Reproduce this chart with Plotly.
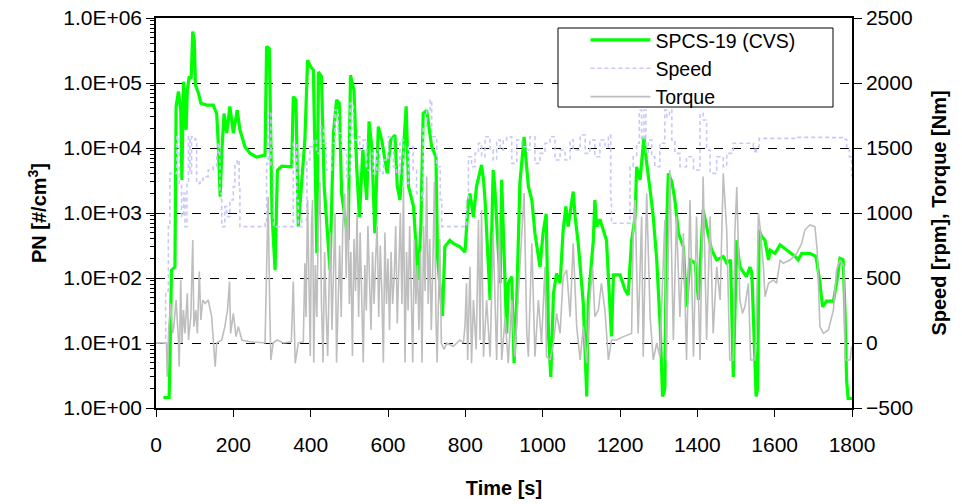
import plotly.graph_objects as go

# ---- PN (SPCS-19, CVS) [#/cm3] ----
pn_t = [19, 34, 36, 40, 49, 52, 58, 64, 67, 71, 75, 78, 81, 86, 91, 95, 99, 102, 110, 116,
        131, 148, 157, 161, 166, 170, 176, 183, 191, 200, 210, 217, 230, 243, 260, 282, 286, 293, 297, 300,
        308, 314, 325, 351, 355, 362, 368, 379, 385, 392, 400, 407, 411, 416, 420, 428, 435, 450, 459, 467,
        474, 480, 497, 503, 512, 519, 526, 535, 545, 551, 558, 566, 575, 584, 592, 598, 607, 618, 624, 631,
        640, 647, 653, 666, 678, 685, 691, 700, 713, 724, 728, 741, 747, 760, 769, 786, 799, 808, 812, 821,
        829, 838, 842, 847, 851, 864, 872, 876, 880, 890, 894, 907, 911, 920, 926, 933, 941, 952, 957, 963,
        972, 980, 993, 1001, 1009, 1015, 1021, 1028, 1036, 1045, 1053, 1060, 1066, 1079, 1084, 1092, 1105, 1114, 1118, 1127,
        1131, 1135, 1140, 1148, 1157, 1165, 1174, 1178, 1183, 1200, 1213, 1221, 1230, 1239, 1243, 1252, 1258, 1262, 1268, 1273,
        1279, 1286, 1295, 1304, 1310, 1316, 1320, 1325, 1334, 1342, 1351, 1364, 1372, 1381, 1394, 1403, 1415, 1424, 1437, 1450,
        1467, 1476, 1486, 1493, 1502, 1510, 1527, 1536, 1541, 1545, 1552, 1556, 1558, 1560, 1566, 1575, 1584, 1588, 1601, 1614,
        1631, 1653, 1661, 1670, 1691, 1707, 1716, 1724, 1734, 1752, 1760, 1769, 1777, 1782, 1786, 1790, 1800]
pn_v = [1.45, 1.45, 5.5, 132, 148, 43650, 74130, 38020, 3236, 104700, 38020, 19050, 77620, 125900, 117500, 616600, 457100, 93330, 69180, 48980,
        45710, 45710, 33880, 11750, 1778, 8318, 33880, 16980, 43650, 16980, 38020, 19050, 10470, 8318, 7244, 7762, 363100, 338800, 13180, 977,
        132, 4571, 5248, 5129, 61660, 54950, 617, 5129, 13180, 223900, 177800, 158500, 9333, 240, 147900, 125900, 2570, 132, 16980, 54950,
        48980, 1995, 380, 131800, 77620, 5129, 871, 9333, 1585, 25700, 10470, 490, 21380, 13180, 6607, 4074, 13180, 15850, 2570, 1585,
        9333, 43650, 2570, 1259, 93, 617, 33880, 38020, 10470, 7244, 214, 26, 302, 380, 339, 302, 251, 1585, 1995, 871,
        2570, 4074, 5495, 3236, 1585, 46, 4571, 2570, 871, 83, 3236, 14, 83, 105, 4.9, 46, 2884, 14790, 6607, 2570,
        1585, 490, 148, 490, 977, 14, 3.0, 58, 117, 83, 550, 1259, 617, 2138, 871, 339, 41, 1.5, 46, 190,
        380, 1585, 617, 800, 550, 380, 36, 12.6, 112, 112, 66, 55, 380, 871, 5129, 3236, 8318, 14790, 6607, 4074,
        1995, 871, 190, 18, 1.5, 2.0, 490, 4074, 3020, 1585, 490, 302, 36, 190, 170, 46, 1120, 617, 269, 190,
        214, 170, 190, 3.0, 380, 148, 105, 148, 120, 25, 1.5, 2.0, 46, 550, 437, 380, 190, 269, 240, 324,
        269, 214, 190, 240, 240, 214, 93, 36, 44, 44, 83, 200, 190, 29, 2.7, 1.4, 1.4]

# ---- Speed [rpm] ----
sp_t = [0, 22, 25, 32, 36, 48, 54, 60, 66, 71, 75, 80, 84, 88, 92, 101, 105, 114, 122, 135,
        148, 157, 161, 165, 170, 178, 183, 191, 200, 204, 210, 215, 217, 282, 286, 290, 297, 304, 347, 355,
        364, 368, 377, 390, 398, 407, 415, 424, 433, 441, 454, 463, 471, 480, 493, 502, 510, 519, 527, 536,
        545, 553, 562, 571, 579, 588, 601, 614, 622, 631, 640, 653, 665, 674, 687, 691, 700, 709, 713, 722,
        726, 735, 739, 799, 803, 808, 816, 825, 834, 842, 851, 864, 872, 881, 890, 898, 907, 920, 933, 946,
        959, 967, 980, 993, 1006, 1019, 1032, 1045, 1058, 1071, 1079, 1097, 1110, 1122, 1135, 1148, 1161, 1170, 1176, 1178,
        1222, 1226, 1234, 1243, 1250, 1256, 1262, 1267, 1273, 1282, 1290, 1303, 1316, 1321, 1328, 1334, 1342, 1355, 1372, 1390,
        1407, 1415, 1424, 1433, 1450, 1467, 1476, 1493, 1510, 1536, 1545, 1549, 1553, 1560, 1614, 1657, 1700, 1743, 1778, 1786,
        1793, 1799]
sp_v = [0, 0, 400, 895, 1305, 1305, 1587, 1228, 972, 1151, 895, 1228, 1587, 1305, 1587, 1562, 1228, 1254, 1280, 1331,
        1356, 1433, 1536, 1151, 895, 1049, 972, 1100, 1203, 1382, 1408, 1203, 895, 921, 1382, 1767, 1356, 895, 895, 1536,
        1100, 895, 946, 1408, 1510, 1562, 1459, 1664, 1536, 1331, 1536, 1792, 1613, 1485, 1280, 1844, 1562, 1587, 1485, 1562,
        1331, 1459, 1305, 1485, 1305, 1408, 1587, 1356, 1305, 1562, 1228, 1510, 1331, 1151, 1100, 1664, 1792, 1869, 1587, 1562,
        1356, 1100, 895, 895, 1100, 1433, 1356, 1459, 1536, 1433, 1587, 1485, 1408, 1562, 1485, 1562, 1587, 1382, 1562, 1510,
        1485, 1587, 1382, 1459, 1536, 1587, 1408, 1485, 1408, 1562, 1485, 1600, 1459, 1562, 1433, 1562, 1510, 1600, 1100, 921,
        921, 1356, 1433, 1536, 1792, 1562, 1792, 1459, 1562, 1433, 1356, 1536, 1792, 1740, 1792, 1562, 1459, 1356, 1433, 1331,
        1767, 1715, 1485, 1305, 1433, 1356, 1459, 1536, 1536, 1536, 1510, 1459, 1510, 1574, 1574, 1582, 1582, 1580, 1567, 1510,
        1433, 1280]

# ---- Torque [Nm] ----
tq_t = [0, 27, 29, 33, 38, 43, 46, 52, 58, 60, 64, 67, 71, 75, 81, 84, 90, 95, 98, 103,
        107, 112, 116, 121, 127, 135, 144, 153, 157, 170, 178, 185, 190, 193, 200, 207, 213, 222, 243, 282,
        286, 290, 294, 297, 303, 313, 330, 350, 355, 360, 368, 381, 385, 388, 392, 396, 399, 402, 405, 408,
        412, 416, 420, 424, 428, 432, 436, 440, 444, 448, 451, 455, 459, 463, 467, 471, 475, 479, 483, 488,
        492, 496, 500, 504, 508, 512, 516, 520, 524, 528, 532, 536, 540, 544, 548, 552, 556, 560, 564, 568,
        572, 576, 580, 584, 588, 592, 596, 600, 604, 608, 612, 616, 620, 624, 628, 632, 636, 640, 644, 648,
        652, 656, 660, 664, 668, 672, 676, 680, 684, 688, 692, 696, 700, 704, 708, 712, 716, 720, 724, 727,
        731, 734, 738, 745, 752, 769, 786, 795, 799, 803, 806, 812, 816, 821, 828, 834, 838, 842, 847, 855,
        864, 872, 881, 888, 894, 903, 911, 920, 928, 937, 946, 952, 959, 963, 972, 980, 989, 997, 1006, 1010,
        1019, 1028, 1036, 1045, 1053, 1062, 1071, 1079, 1088, 1097, 1105, 1114, 1122, 1129, 1135, 1144, 1152, 1161, 1170, 1178,
        1191, 1209, 1230, 1234, 1239, 1247, 1256, 1260, 1269, 1278, 1286, 1295, 1303, 1316, 1320, 1329, 1338, 1346, 1355, 1364,
        1372, 1381, 1390, 1398, 1407, 1415, 1424, 1433, 1441, 1450, 1459, 1467, 1476, 1484, 1493, 1497, 1502, 1510, 1517, 1523,
        1532, 1538, 1549, 1553, 1558, 1562, 1571, 1575, 1584, 1597, 1605, 1614, 1622, 1640, 1657, 1670, 1678, 1691, 1704, 1710,
        1717, 1726, 1739, 1752, 1760, 1769, 1779, 1782, 1795, 1799]
tq_v = [0, 0, -259, 126, 305, 74, 126, 331, 23, -182, 485, 0, 254, 74, 382, 23, 200, 792, 126, 254,
        74, 549, 177, 331, 305, 331, 203, -182, 0, 23, 126, 254, 472, 74, 228, 49, 126, 23, 10, 0,
        562, 1123, 300, -131, 0, 23, 0, 10, 472, -156, 0, 10, 613, 200, 1100, 400, -100, 900, 1100, -150,
        600, 200, 950, 1240, 300, -150, 700, 250, -100, 500, 850, 100, 650, 1000, -150, 400, 750, 200, 900, 1150,
        500, 1180, 300, 700, -100, 800, 400, 1000, 200, 850, 300, -150, 600, 250, 900, 400, 100, 700, 300, 650,
        900, 200, 750, 400, -150, 850, 300, 650, 100, 700, 300, 500, 900, 150, 600, 1000, 300, 1200, -150, 700,
        250, 900, 400, -150, 800, 300, 600, 100, 700, -150, 900, 400, 1280, 300, 800, 100, 600, 1240, 200, -150,
        400, 800, 0, -50, 0, -25, 23, 0, 126, 459, -131, 587, -156, 331, -50, 946, 23, 1023, -105, 331,
        -105, 844, -131, 920, -131, 200, -156, 331, -105, 331, 844, 1154, 74, -105, 767, -105, 331, 0, 587, -105,
        -131, 0, 228, 74, 510, 562, 203, 767, 126, -131, 126, -156, 331, 587, 203, 254, 459, 254, -131, 23,
        23, 49, 74, 844, 1100, 74, 972, -105, 1150, 200, -131, 0, -105, 946, -131, 1331, 23, 972, 200, 844,
        -131, 1100, -105, 972, -131, 1280, 23, 972, 74, 587, 331, 1305, 869, -131, -131, 844, 1200, 331, 228, 280,
        459, -131, -131, 200, 1000, 900, 587, 356, 459, 485, 459, 638, 613, 638, 690, 767, 869, 908, 895, 715,
        126, 74, 100, 254, 562, 638, 587, -131, -131, -28]

# ---- Axis tick labels ----
pn_tickvals = [1, 10, 100, 1000, 10000, 100000, 1000000]
pn_ticktext = ["1.0E+00", "1.0E+01", "1.0E+02", "1.0E+03", "1.0E+04", "1.0E+05", "1.0E+06"]

FONT = "Liberation Sans, Arial, sans-serif"

fig = go.Figure()
fig.add_trace(go.Scatter(x=pn_t, y=pn_v, name="SPCS-19 (CVS)", mode="lines",
                         line=dict(color="#00FF00", width=3.2), yaxis="y"))
fig.add_trace(go.Scatter(x=sp_t, y=sp_v, name="Speed", mode="lines",
                         line=dict(color="#C8C8FA", width=1.6, dash="4px,3px", shape="hv"), yaxis="y2"))
fig.add_trace(go.Scatter(x=tq_t, y=tq_v, name="Torque", mode="lines",
                         line=dict(color="#BEBEBE", width=1.6), yaxis="y2"))

minor_vals = [m * 10 ** k for k in range(6) for m in range(2, 10)]

fig.update_layout(
    width=962, height=504,
    margin=dict(l=156, r=110, t=18, b=96),
    paper_bgcolor="white", plot_bgcolor="white",
    font=dict(family=FONT, size=20, color="black"),
    showlegend=True,
    legend=dict(x=0.617, y=0.993, xanchor="left", yanchor="top",
                bgcolor="rgba(0,0,0,0)", borderwidth=0,
                font=dict(size=19.5), tracegroupgap=0, itemwidth=60),
    xaxis=dict(range=[0, 1800], dtick=200, tick0=0, showgrid=False, zeroline=False,
               showline=True, linecolor="black", linewidth=1.5, mirror=True,
               ticks="outside", ticklen=7, tickcolor="black", ticklabelstandoff=10,
               tickfont=dict(size=21), automargin=False,
               title=dict(text="<b>Time [s]</b>", font=dict(size=20), standoff=26)),
    yaxis=dict(type="log", range=[0, 6], tickvals=pn_tickvals, ticktext=pn_ticktext,
               showgrid=True, gridcolor="black", griddash="dash", gridwidth=1,
               zeroline=False, showline=True, linecolor="black", linewidth=1.5,
               ticks="outside", ticklen=8, tickcolor="black", tickfont=dict(size=21),
               minor=dict(tickvals=minor_vals, ticks="outside", ticklen=4, tickcolor="black", showgrid=False),
               automargin=False,
               title=dict(text="<b>PN [#/cm<sup>3</sup>]</b>", font=dict(size=20), standoff=11)),
    yaxis2=dict(overlaying="y", side="right", range=[-500, 2500], dtick=500, tick0=-500,
                showgrid=False, zeroline=False, showline=True, linecolor="black", linewidth=1.5,
                ticks="outside", ticklen=8, tickcolor="black", tickfont=dict(size=21),
                automargin=False,
                title=dict(text="<b>Speed [rpm], Torque [Nm]</b>", font=dict(size=20), standoff=20)),
    shapes=[dict(type="rect", xref="paper", yref="paper",
                 x0=(558 - 156) / 696, x1=(833 - 156) / 696,
                 y0=(408 - 107) / 390, y1=(408 - 28) / 390,
                 line=dict(color="black", width=1), fillcolor="white", layer="above")],
)

fig.write_html("out.html")
